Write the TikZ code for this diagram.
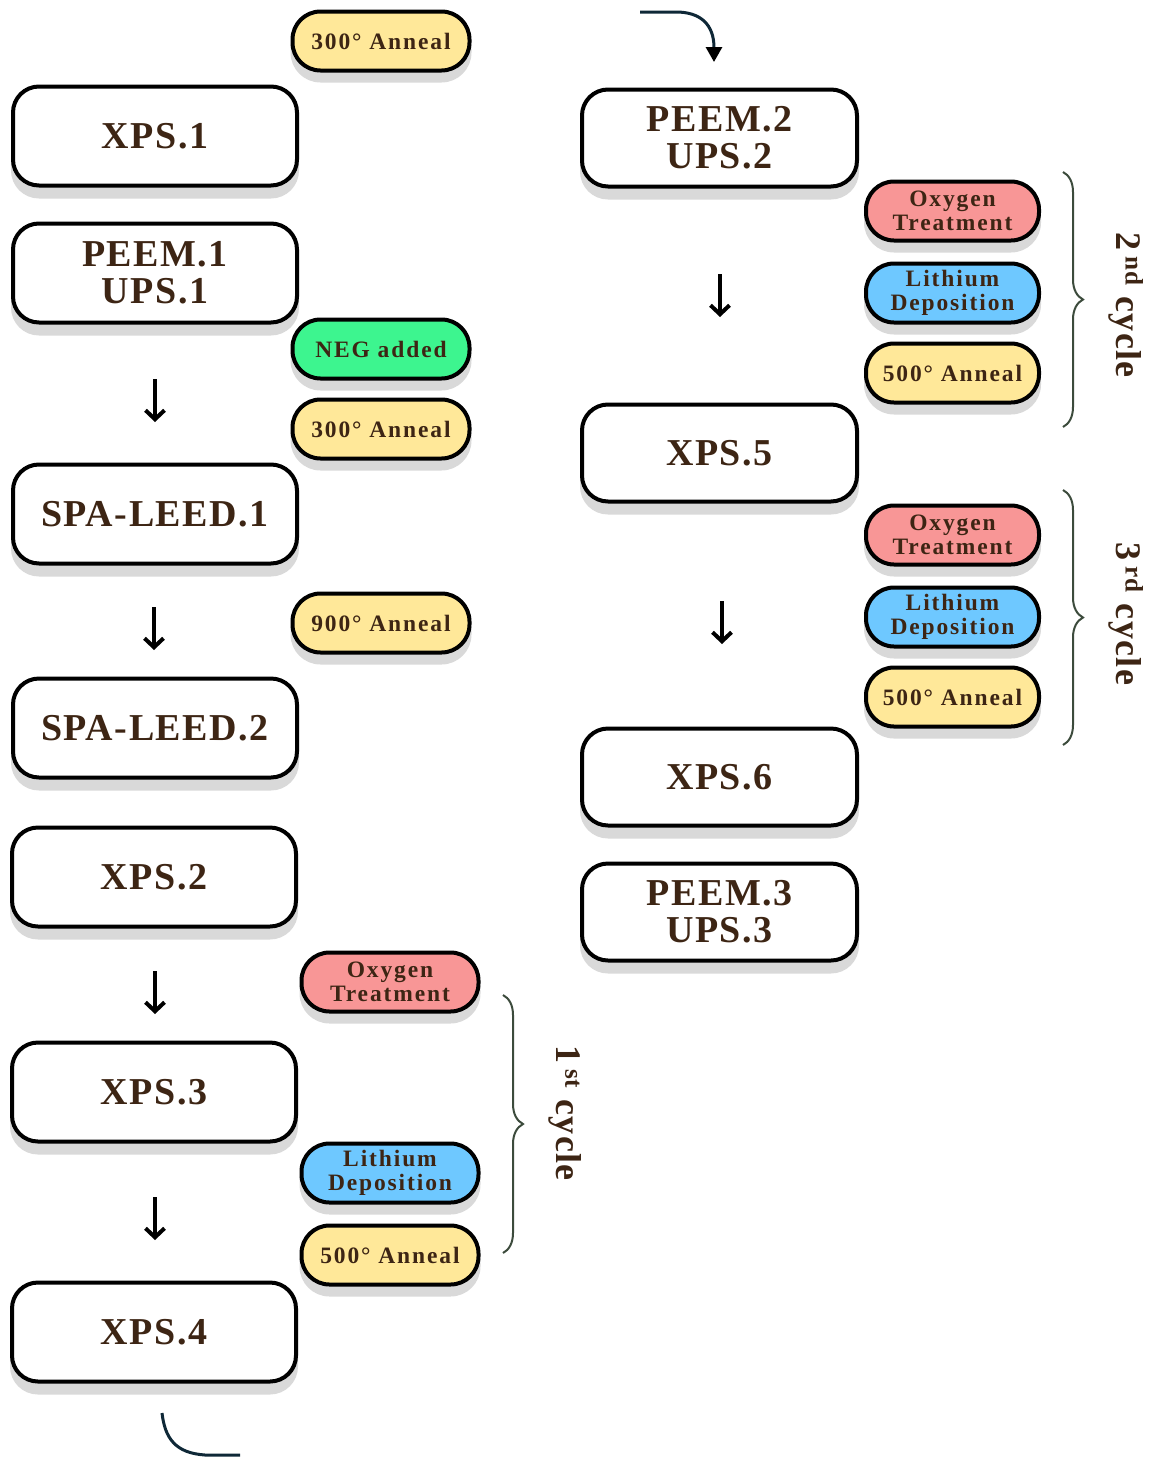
\documentclass[tikz,border=0pt]{standalone}
\usepackage{fontspec}
\setmainfont{Liberation Serif}
\newfontfamily\boxfont[LetterSpace=4]{Liberation Serif}
\newfontfamily\pillfont[LetterSpace=8]{Liberation Serif}
\usetikzlibrary{arrows.meta,shadows,decorations.pathreplacing}

\definecolor{txtbrown}{RGB}{61,37,20}
\definecolor{shadowgray}{RGB}{217,217,217}
\definecolor{annealyellow}{RGB}{255,232,153}
\definecolor{neggreen}{RGB}{61,245,143}
\definecolor{oxypink}{RGB}{248,150,150}
\definecolor{liblue}{RGB}{110,200,255}
\definecolor{bracegray}{RGB}{60,75,60}
\definecolor{flownavy}{RGB}{15,40,55}

\tikzset{
  bigbox/.style={draw=black, line width=4pt, fill=white, rounded corners=26pt,
    minimum width=284pt, minimum height=99pt, inner sep=0pt, align=center,
    text=txtbrown, font=\boxfont\bfseries\fontsize{38}{37}\selectfont,
    general shadow={fill=shadowgray, draw=shadowgray, shadow yshift=-11pt}},
  pill/.style={draw=black, line width=4pt, rounded corners=28pt,
    minimum width=177pt, minimum height=59pt, inner sep=0pt, align=center,
    text=txtbrown, font=\pillfont\bfseries\fontsize{23.5}{24}\selectfont,
    general shadow={fill=shadowgray, draw=shadowgray, shadow yshift=-10pt}},
  anneal/.style={pill, fill=annealyellow},
  neg/.style={pill, fill=neggreen},
  oxygen/.style={pill, fill=oxypink},
  lithium/.style={pill, fill=liblue},
  downarr/.style={draw=black, line width=4pt,
    -{Straight Barb[length=9pt, width=19pt, line width=4pt]}},
  cycbrace/.style={draw=bracegray, line width=2pt, decorate,
    decoration={brace, amplitude=20pt}},
  cyclabel/.style={rotate=-90, text=txtbrown,
    font=\boxfont\bfseries\fontsize{36}{36}\selectfont},
  flow/.style={draw=flownavy, line width=3pt}
}

\begin{document}
\begin{tikzpicture}[x=1pt, y=-1pt]

\useasboundingbox (0,0) rectangle (1152,1457);

\node [bigbox] (v1) at (155,136) {XPS.1};
\node [bigbox] (v2) at (155,273) {PEEM.1\\UPS.1};
\node [bigbox] (v3) at (155,514) {SPA-LEED.1};
\node [bigbox] (v4) at (155,728) {SPA-LEED.2};
\node [bigbox] (v5) at (154,877) {XPS.2};
\node [bigbox] (v6) at (154,1092) {XPS.3};
\node [bigbox] (v7) at (154,1332) {XPS.4};

\node [bigbox, minimum width=275pt, minimum height=97pt] (v8) at (719.5,138) {PEEM.2\\UPS.2};
\node [bigbox, minimum width=275pt, minimum height=97pt] (v9) at (719.5,453) {XPS.5};
\node [bigbox, minimum width=275pt, minimum height=97pt] (v10) at (719.5,777) {XPS.6};
\node [bigbox, minimum width=275pt, minimum height=97pt] (v11) at (719.5,912) {PEEM.3\\UPS.3};

\node [anneal] (p1) at (381,41) {300° Anneal};
\node [neg] (p2) at (381,349) {NEG added};
\node [anneal] (p3) at (381,429) {300° Anneal};
\node [anneal] (p4) at (381,623) {900° Anneal};
\node [oxygen] (p5) at (390,982) {Oxygen\\Treatment};
\node [lithium] (p6) at (390,1173) {Lithium\\Deposition};
\node [anneal] (p7) at (390,1255) {500° Anneal};

\node [oxygen, minimum width=173pt] (p8) at (952.5,211) {Oxygen\\Treatment};
\node [lithium, minimum width=173pt] (p9) at (952.5,293) {Lithium\\Deposition};
\node [anneal, minimum width=173pt] (p10) at (952.5,373) {500° Anneal};
\node [oxygen, minimum width=173pt] (p11) at (952.5,535) {Oxygen\\Treatment};
\node [lithium, minimum width=173pt] (p12) at (952.5,617) {Lithium\\Deposition};
\node [anneal, minimum width=173pt] (p13) at (952.5,697) {500° Anneal};

\coordinate (a1s) at (155,379);
\coordinate (a1e) at (155,422);
\coordinate (a2s) at (154,607);
\coordinate (a2e) at (154,650);
\coordinate (a3s) at (155,971);
\coordinate (a3e) at (155,1014);
\coordinate (a4s) at (155,1197);
\coordinate (a4e) at (155,1240);
\coordinate (a5s) at (720,274);
\coordinate (a5e) at (720,317);
\coordinate (a6s) at (722,601);
\coordinate (a6e) at (722,644);

\draw [downarr] (a1s) -- (a1e);
\draw [downarr] (a2s) -- (a2e);
\draw [downarr] (a3s) -- (a3e);
\draw [downarr] (a4s) -- (a4e);
\draw [downarr] (a5s) -- (a5e);
\draw [downarr] (a6s) -- (a6e);

\coordinate (b1s) at (503,995);
\coordinate (b1e) at (503,1253);
\coordinate (b2s) at (1063,172);
\coordinate (b2e) at (1063,427);
\coordinate (b3s) at (1063,490);
\coordinate (b3e) at (1063,745);

\draw [cycbrace] (b1s) -- (b1e);
\draw [cycbrace] (b2s) -- (b2e);
\draw [cycbrace] (b3s) -- (b3e);

\node [cyclabel] (c1) at (565,1113) {1\,\textsuperscript{st} cycle};
\node [cyclabel] (c2) at (1126,305) {2\,\textsuperscript{nd} cycle};
\node [cyclabel] (c3) at (1126,614) {3\,\textsuperscript{rd} cycle};

\coordinate (f1s) at (162,1413);
\coordinate (f1e) at (240,1455);
\coordinate (f2s) at (640,12);
\coordinate (f2e) at (714,62);

\draw [flow] (f1s) .. controls (165,1438) and (175,1453) .. (205,1455) -- (f1e);
\draw [flow, -{Triangle[width=16pt, length=15pt, color=black]}]
  (f2s) -- (676,12) .. controls (700,12) and (714,24) .. (f2e);

\end{tikzpicture}
\end{document}
